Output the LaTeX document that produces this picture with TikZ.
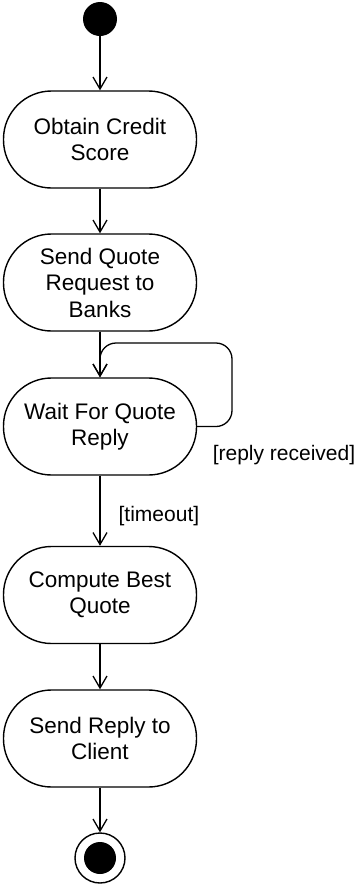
\documentclass[tikz,border=0pt]{standalone}
\usepackage{fontspec}
\setmainfont{Liberation Sans}
\usetikzlibrary{arrows.meta}
\begin{document}
\begin{tikzpicture}[x=1pt,y=-1pt,
  act/.style={draw, line width=1.4pt, rounded corners=48pt, minimum width=193pt, minimum height=97pt,
    align=center, inner sep=0pt, font=\fontsize{22.5}{26.5}\selectfont},
  flow/.style={line width=1.3pt, -{Straight Barb[length=12pt,width=14pt,line width=1.3pt]}},
  guard/.style={font=\fontsize{21}{24}\selectfont, inner sep=0pt}]
\useasboundingbox (0,0) rectangle (358,884);
\node[circle, fill=black, minimum size=34pt, inner sep=0pt] (start) at (100,19) {};
\node[act] (a1) at (100,139.5) {Obtain Credit\\Score};
\node[act] (a2) at (100,282.5) {Send Quote\\Request to\\Banks};
\node[act] (a3) at (100,426.5) {Wait For Quote\\Reply};
\node[act] (a4) at (100,595) {Compute Best\\Quote};
\node[act] (a5) at (100,738.5) {Send Reply to\\Client};
\node[circle, draw, line width=1.4pt, minimum size=50pt, inner sep=0pt] (stop) at (100,858) {};
\node[circle, fill=black, minimum size=32pt, inner sep=0pt] (stopin) at (100,858) {};
\draw[flow] (start) -- (a1);
\draw[flow] (a1) -- (a2);
\draw[flow] (a2) -- (a3);
\draw[flow] (a3) -- node[guard, right=18pt, pos=0.57] (tl) {[timeout]} (a4);
\draw[flow] (a4) -- (a5);
\draw[flow] (a5) -- (stop);
\coordinate (lc) at (232,343);
\draw[flow, rounded corners=16pt] (a3.east) -| (lc) -| (a3.north);
\node[guard] (rl) at (284,455) {[reply received]};
\end{tikzpicture}
\end{document}
